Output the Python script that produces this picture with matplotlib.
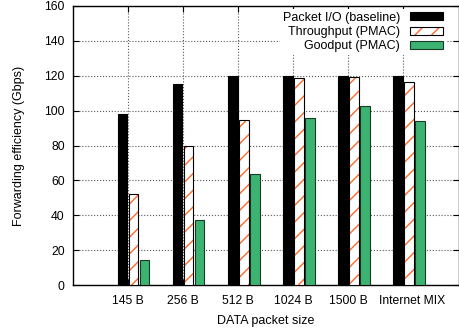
import numpy as np
import matplotlib
matplotlib.use("Agg")
import matplotlib.pyplot as plt
import matplotlib.transforms as mtransforms
from matplotlib.patches import Patch

plt.rcParams['font.family'] = ['Liberation Sans', 'DejaVu Sans']
plt.rcParams['hatch.linewidth'] = 1.0

sizes = ["145 B", "256 B", "512 B", "1024 B", "1500 B", "Internet MIX"]
baseline = [98, 115.5, 120, 120, 120, 120]
throughput = [52, 79.5, 94.5, 118.5, 119.5, 116.5]
goodput = [14.5, 37.5, 63.5, 96, 102.5, 94]

orange = "#ff6a2a"
green = "#3cb371"

fig = plt.figure(figsize=(4.59, 3.30), dpi=100)
ax = fig.add_axes([0.159, 0.136, 0.84, 0.846])

x = np.arange(len(sizes))
w = 0.175

b1 = ax.bar(x - 0.1, baseline, w, color="black", edgecolor="black",
            linewidth=0.8, zorder=3)
# hatch drawn in orange, outline drawn separately in black
ax.bar(x + 0.1, throughput, w, color="white", edgecolor=orange, hatch="//",
       linewidth=0, zorder=3)
ax.bar(x + 0.1, throughput, w, fill=False, edgecolor="black",
       linewidth=0.8, zorder=4)
b3 = ax.bar(x + 0.3, goodput, w, color=green, edgecolor="#1a3a28",
            linewidth=0.8, zorder=3)

h2 = (Patch(facecolor="white", edgecolor=orange, hatch="//", linewidth=0),
      Patch(fill=False, edgecolor="black", linewidth=0.8))

ax.set_xlim(-1, 6)
ax.set_ylim(0, 160)
ax.set_xticks(x)
ax.set_xticklabels(sizes)
ax.set_yticks(np.arange(0, 161, 20))
ax.tick_params(direction="in", top=True, right=True, labelsize=8.7,
               length=4)
ax.tick_params(axis="x", pad=7)
ax.tick_params(axis="y", pad=6)
ax.grid(True, linestyle=":", color="0.35", linewidth=0.8, zorder=0)
ax.set_axisbelow(True)

# last label sits a little right of its tick
shift = mtransforms.ScaledTranslation(9 / 100, 0, fig.dpi_scale_trans)
last = ax.get_xticklabels()[-1]
last.set_transform(last.get_transform() + shift)

ax.set_xlabel("DATA packet size", fontsize=9, labelpad=6)
ax.set_ylabel("Forwarding efficiency (Gbps)", fontsize=9, labelpad=14)

for s in ax.spines.values():
    s.set_linewidth(1.0)

leg = ax.legend([b1, h2, b3],
                ["Packet I/O (baseline)", "Throughput (PMAC)", "Goodput (PMAC)"],
                loc="upper right", bbox_to_anchor=(0.97, 0.995),
                markerfirst=False, fontsize=9,
                frameon=True, framealpha=1, edgecolor="none", fancybox=False,
                handlelength=2.6, handleheight=0.6, labelspacing=0.18,
                handletextpad=0.8, borderaxespad=0.1, borderpad=0.25)
leg.set_zorder(5)

fig.savefig("out.png", dpi=100)
